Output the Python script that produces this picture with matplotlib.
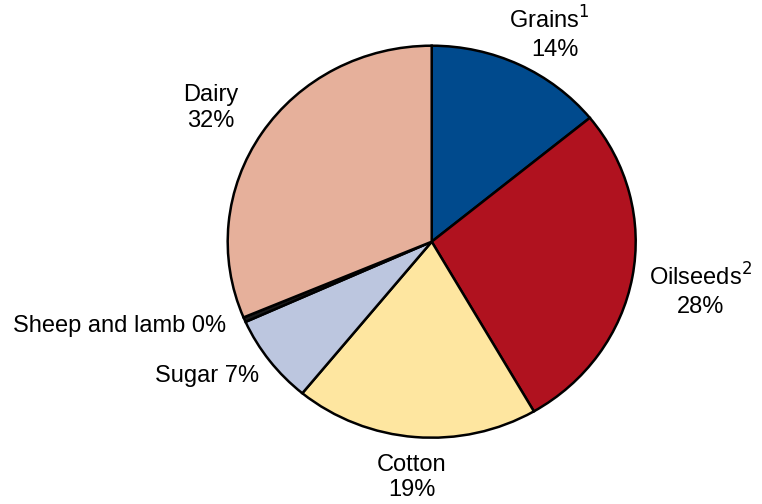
import matplotlib.pyplot as plt

plt.rcParams['font.family'] = ['Liberation Sans', 'DejaVu Sans']

# share of total, by commodity
commodities = ["Grains", "Oilseeds", "Cotton", "Sugar", "Sheep and lamb", "Dairy"]
shares = [14.2, 27.7, 19.4, 7.4, 0.4, 31.5]
colors = ["#004a8d", "#b0121f", "#fee6a0", "#bcc6df", "#1a1a1a", "#e6b09b"]

W, H = 762, 504
fig = plt.figure(figsize=(W / 100, H / 100), dpi=100)

# pie is drawn a little wider than tall
cx, cy, rx, ry = 431.7, 241.7, 204.0, 196.0
pad = 1.05
ax = fig.add_axes([(cx - rx * pad) / W, 1 - (cy + ry * pad) / H,
                   2 * rx * pad / W, 2 * ry * pad / H])
ax.pie(shares, colors=colors, startangle=90, counterclock=False,
       wedgeprops=dict(edgecolor="black", linewidth=1.8))
ax.set_aspect('auto')
ax.set_xlim(-pad, pad)
ax.set_ylim(-pad, pad)
ax.axis('off')

pct = {c: "{:.0f}%".format(round(s)) for c, s in zip(commodities, shares)}


def label(x, y, s, ha="center"):
    fig.text(x / W, 1 - y / H, s, ha=ha, va="center", fontsize=17)


label(549, 20, "Grains$^{1}$")
label(555, 50, pct["Grains"])
label(701, 277, "Oilseeds$^{2}$")
label(701, 307, pct["Oilseeds"])
label(412, 465, "Cotton")
label(412, 490, pct["Cotton"])
label(259, 376, "Sugar " + pct["Sugar"], ha="right")
label(226, 326, "Sheep and lamb " + pct["Sheep and lamb"], ha="right")
label(211, 95, "Dairy")
label(211, 121, pct["Dairy"])

fig.savefig("out.png", dpi=100)
